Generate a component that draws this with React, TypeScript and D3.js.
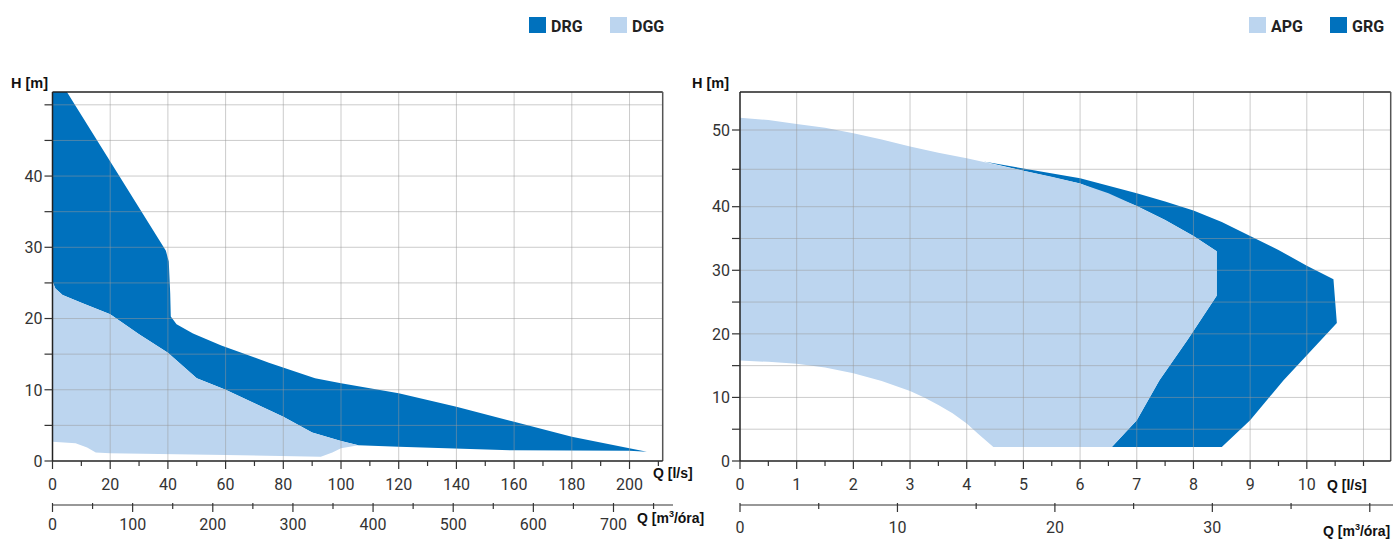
import * as d3 from "d3";

// DRG / DGG (left chart) – Q in l/s, H in m
const drgTop: [number, number][] = [
  [0, 51.8], [5, 51.8], [39.3, 29.5], [40.3, 28], [40.8, 23.5], [41, 20.3], [43, 19.2],
  [48.7, 17.9], [58.5, 16.2], [75, 13.8], [91, 11.6], [100, 10.9], [120, 9.5], [140, 7.6],
  [160, 5.5], [180, 3.4], [206, 1.3],
];
const drgBottom: [number, number][] = [
  [206, 1.3], [200, 1.45], [160, 1.5], [120, 2.0], [106, 2.2],
];
const dggTop: [number, number][] = [
  [0, 25.2], [1, 24.2], [3.5, 23.3], [10, 22.2], [20, 20.6], [30, 17.8], [40, 15.2],
  [50, 11.6], [60, 10], [70, 8.1], [80, 6.2], [90, 4.0], [100, 2.8], [106, 2.2],
];
const dggBottom: [number, number][] = [
  [106, 2.2], [100, 1.8], [97, 1.2], [93, 0.6], [60, 0.85], [20, 1.1], [15, 1.2],
  [12, 1.9], [8, 2.5], [0, 2.7],
];

// APG / GRG (right chart)
const apgOutline: [number, number][] = [
  [0, 51.6], [0.5, 51.3], [1, 50.8], [1.5, 50.3], [2, 49.6], [2.5, 48.8], [3, 47.9],
  [3.5, 47.1], [4, 46.4], [4.5, 45.6], [5, 44.8], [5.5, 44], [6, 43.1], [6.5, 41.8],
  [7, 40.1], [7.5, 37.9], [8, 35.4], [8.41, 33], [8.41, 26], [7.9, 19.1], [7.4, 12.7],
  [7, 6.4], [6.56, 2.2], [4.47, 2.2], [4.2, 4.3], [4, 5.9], [3.75, 7.5], [3.5, 8.8],
  [3.25, 10.0], [3, 11.0], [2.5, 12.6], [2, 13.8], [1.5, 14.7], [1, 15.3], [0.5, 15.6], [0, 15.8],
];
const grgOutline: [number, number][] = [
  [4.3, 46], [5, 45.1], [6, 43.8], [7, 41.8], [7.5, 40.7], [8, 39.4], [8.5, 37.6],
  [9, 35.4], [9.5, 33.2], [10, 30.7], [10.47, 28.6], [10.53, 21.7], [9.59, 12.7],
  [9, 6.4], [8.5, 2.2], [6.56, 2.2], [7, 6.4], [7.4, 12.7], [7.9, 19.1], [8.41, 26],
  [8.41, 33], [8, 35.4], [7.5, 37.9], [7, 40.1], [6, 43.1], [5, 44.8],
];

const leftQTicks = d3.range(0, 211, 10);
const leftQLabels = d3.range(0, 201, 20);
const leftM3Ticks = d3.range(0, 751, 50);
const leftM3Labels = d3.range(0, 701, 100);
const leftHTicks = d3.range(0, 51, 5);
const leftHLabels = [0, 10, 20, 30, 40];

const rightQTicks = d3.range(0, 11.01, 0.5);
const rightQLabels = d3.range(0, 11, 1);
const rightM3Ticks = d3.range(0, 41, 5);
const rightM3Labels = [0, 10, 20, 30];
const rightHTicks = d3.range(0, 51, 5);
const rightHLabels = [0, 10, 20, 30, 40, 50];

const DARK = "#0071bd";
const LIGHT = "#bcd5ef";
const GRID = "#999";
const TICKFONT = "Roboto, sans-serif";
const BOLDFONT = "'Liberation Sans', Arial, sans-serif";

type Pt = [number, number];

function Chart(props: {
  x: d3.ScaleLinear<number, number>;
  xm: d3.ScaleLinear<number, number>;
  y: d3.ScaleLinear<number, number>;
  areas: { pts: Pt[]; fill: string }[];
  qTicks: number[]; qLabels: number[];
  mTicks: number[]; mLabels: number[];
  hTicks: number[]; hLabels: number[];
  gridX: number[];
  mLineEnd: number;
  mLabelY: number;
  qTitle: { x: number; y: number };
  mTitle: { x: number; y: number };
  hTitleX: number;
  legend: { x: number; name: string; fill: string }[];
}) {
  const { x, xm, y } = props;
  const [x0, x1] = x.range();
  const y0 = y(0);
  const yTop = 92;
  const line = d3.line<Pt>().x((d) => x(d[0])).y((d) => y(d[1]));
  const isMajorQ = (v: number) => props.qLabels.some((l) => Math.abs(l - v) < 1e-6);
  const isMajorM = (v: number) => v % 10 === 0 && (props.mLabels.includes(v) || v === 40);
  return (
    <g>
      {props.areas.map((a, i) => (
        <path key={i} d={line(a.pts) + "Z"} fill={a.fill} />
      ))}
      {/* grid */}
      {props.hTicks.filter((v) => v > 0).map((v) => (
        <line key={"gh" + v} x1={x0} x2={x1} y1={y(v)} y2={y(v)} stroke={GRID} strokeOpacity={0.5} />
      ))}
      {props.gridX.map((v) => (
        <line key={"gv" + v} x1={x(v)} x2={x(v)} y1={yTop} y2={y0} stroke={GRID} strokeOpacity={0.5} />
      ))}
      {/* frame */}
      <line x1={x0} x2={x1} y1={yTop} y2={yTop} stroke="#222" strokeWidth={1.5} />
      <line x1={x1} x2={x1} y1={yTop} y2={y0} stroke="#555" strokeWidth={1.5} />
      <line x1={x0} x2={x0} y1={yTop} y2={y0} stroke="#222" strokeWidth={1.5} />
      <line x1={x0} x2={x1} y1={y0} y2={y0} stroke="#222" strokeWidth={1.5} />
      {/* H axis */}
      {props.hTicks.map((v) => (
        <line key={"ht" + v} x1={x0 - 8} x2={x0} y1={y(v)} y2={y(v)} stroke="#333" strokeWidth={1.2} />
      ))}
      {props.hLabels.map((v) => (
        <text key={"hl" + v} x={x0 - 10} y={y(v)} dy="0.36em" textAnchor="end" fontFamily={TICKFONT} fontSize={16} fill="#333">{v}</text>
      ))}
      <text x={props.hTitleX} y={88} fontFamily={BOLDFONT} fontWeight="bold" fontSize={14.5} fill="#111">H [m]</text>
      {/* Q axis */}
      {props.qTicks.map((v) => (
        <line key={"qt" + v} x1={x(v)} x2={x(v)} y1={y0} y2={y0 + (isMajorQ(v) ? 8 : 5)} stroke="#333" strokeWidth={1.2} />
      ))}
      {props.qLabels.map((v) => (
        <text key={"ql" + v} x={x(v)} y={490} textAnchor="middle" fontFamily={TICKFONT} fontSize={16} fill="#333">{v}</text>
      ))}
      <text x={props.qTitle.x} y={props.qTitle.y} fontFamily={BOLDFONT} fontWeight="bold" fontSize={14} fill="#111">Q [l/s]</text>
      {/* m3/h axis */}
      <line x1={x0} x2={props.mLineEnd} y1={505} y2={505} stroke="#333" strokeWidth={1.2} />
      {props.mTicks.map((v) => (
        <line key={"mt" + v} x1={xm(v)} x2={xm(v)} y1={503} y2={isMajorM(v) ? 512 : 509} stroke="#333" strokeWidth={1.2} />
      ))}
      {props.mLabels.map((v) => (
        <text key={"ml" + v} x={xm(v)} y={props.mLabelY} textAnchor="middle" fontFamily={TICKFONT} fontSize={16} fill="#333">{v}</text>
      ))}
      <text x={props.mTitle.x} y={props.mTitle.y} fontFamily={BOLDFONT} fontWeight="bold" fontSize={14} fill="#111">
        Q [m<tspan fontSize={9} dy={-6}>3</tspan><tspan dy={6}>/óra]</tspan>
      </text>
      {/* legend */}
      {props.legend.map((l) => (
        <g key={l.name}>
          <rect x={l.x} y={17} width={17} height={16} fill={l.fill} />
          <text x={l.x + 22} y={32} fontFamily={TICKFONT} fontWeight="bold" fontSize={16} fill="#222">{l.name}</text>
        </g>
      ))}
    </g>
  );
}

export default function App() {
  const lx = d3.scaleLinear().domain([0, 211.5]).range([52.5, 662.7]);
  const lxm = d3.scaleLinear().domain([0, 211.5 * 3.6]).range([52.5, 662.7]);
  const ly = d3.scaleLinear().domain([0, 51.8]).range([461, 92]);

  const rx = d3.scaleLinear().domain([0, 11.48]).range([740, 1390.7]);
  const rxm = d3.scaleLinear().domain([0, 11.48 * 3.6]).range([740, 1390.7]);
  // the printed H scale is stretched above 40 m
  const ry = d3.scaleLinear().domain([0, 40, 45, 50, 55]).range([461, 206.7, 169.3, 130, 92]);

  return (
    <div style={{ position: "absolute", left: 0, top: 0 }}>
      <svg width={1395} height={539} style={{ display: "block", background: "#fff" }}>
        <Chart
          x={lx} xm={lxm} y={ly}
          areas={[
            { pts: [...drgTop, ...drgBottom.slice(1), ...dggTop.slice().reverse().slice(1)], fill: DARK },
            { pts: [...dggTop, ...dggBottom.slice(1)], fill: LIGHT },
          ]}
          qTicks={leftQTicks} qLabels={leftQLabels}
          mTicks={leftM3Ticks} mLabels={leftM3Labels}
          hTicks={leftHTicks} hLabels={leftHLabels}
          gridX={leftQLabels.filter((v) => v > 0)}
          mLineEnd={673}
          mLabelY={530}
          qTitle={{ x: 653, y: 478 }}
          mTitle={{ x: 637, y: 523 }}
          hTitleX={11}
          legend={[{ x: 529, name: "DRG", fill: DARK }, { x: 610, name: "DGG", fill: LIGHT }]}
        />
        <Chart
          x={rx} xm={rxm} y={ry}
          areas={[
            { pts: grgOutline, fill: DARK },
            { pts: apgOutline, fill: LIGHT },
          ]}
          qTicks={rightQTicks} qLabels={rightQLabels}
          mTicks={rightM3Ticks} mLabels={rightM3Labels}
          hTicks={rightHTicks} hLabels={rightHLabels}
          gridX={d3.range(1, 12, 1)}
          mLineEnd={1393}
          mLabelY={533}
          qTitle={{ x: 1327, y: 490 }}
          mTitle={{ x: 1323, y: 536 }}
          hTitleX={692}
          legend={[{ x: 1249, name: "APG", fill: LIGHT }, { x: 1330, name: "GRG", fill: DARK }]}
        />
      </svg>
    </div>
  );
}
